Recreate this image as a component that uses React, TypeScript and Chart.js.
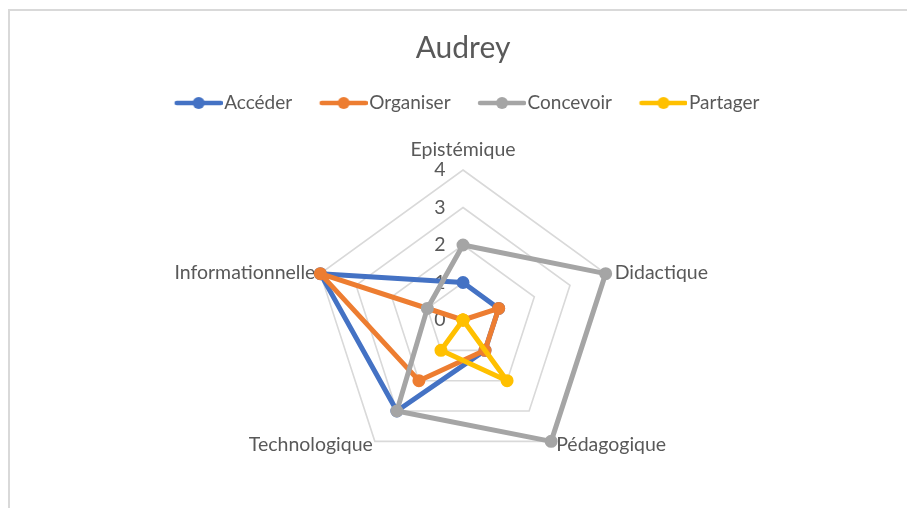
import React, { useEffect, useRef } from 'react';
import { Chart, registerables } from 'chart.js';

Chart.register(...registerables);

const chartTitle = 'Audrey';
const categories = ['Epistémique', 'Didactique', 'Pédagogique', 'Technologique', 'Informationnelle'];
const seriesNames = ['Accéder', 'Organiser', 'Concevoir', 'Partager'];
const accederValues = [1, 1, 1, 3, 4];
const organiserValues = [0, 1, 1, 2, 4];
const concevoirValues = [2, 4, 4, 3, 1];
const partagerValues = [0, 0, 2, 1, 0];
const seriesValues = [accederValues, organiserValues, concevoirValues, partagerValues];
const seriesColors = ['#4472C4', '#ED7D31', '#A5A5A5', '#FFC000'];
const tickMin = 0;
const tickMax = 4;
const tickStep = 1;

const TEXT = '#595959';
const FONT = 'Lato';

function makeLegendIcon(color: string) {
  const c = document.createElement('canvas');
  c.width = 64;
  c.height = 14;
  const ctx = c.getContext('2d')!;
  ctx.strokeStyle = color;
  ctx.lineWidth = 4.5;
  ctx.lineCap = 'round';
  ctx.beginPath();
  ctx.moveTo(18, 7);
  ctx.lineTo(62, 7);
  ctx.stroke();
  ctx.fillStyle = color;
  ctx.beginPath();
  ctx.arc(40, 7, 6, 0, Math.PI * 2);
  ctx.fill();
  return c;
}

const radarLabelsPlugin = {
  id: 'radarLabels',
  beforeDatasetsDraw(chart: any) {
    const scale = chart.scales.r;
    const ctx = chart.ctx;
    ctx.save();
    ctx.fillStyle = TEXT;
    ctx.font = `19.5px ${FONT}`;
    ctx.textBaseline = 'middle';
    ctx.textAlign = 'center';
    scale.ticks.forEach((t: any) => {
      const d = scale.getDistanceFromCenterForValue(t.value);
      ctx.fillText(String(t.label ?? t.value), scale.xCenter - 23, scale.yCenter - d);
    });
    categories.forEach((label, i) => {
      const p = scale.getPointPosition(i, scale.drawingArea);
      const dx = p.x - scale.xCenter;
      if (Math.abs(dx) < 1) {
        ctx.textAlign = 'center';
        ctx.textBaseline = 'alphabetic';
        ctx.fillText(label, p.x, p.y - 14);
      } else {
        ctx.textBaseline = 'middle';
        const below = p.y > scale.yCenter;
        ctx.textAlign = dx > 0 ? 'left' : 'right';
        let ox;
        if (dx > 0) ox = below ? 5 : 9;
        else ox = below ? -2 : -5;
        ctx.fillText(label, p.x + ox, p.y + (below ? 3 : -1));
      }
    });
    ctx.restore();
  },
};

export default function App() {
  const canvasRef = useRef<HTMLCanvasElement | null>(null);

  useEffect(() => {
    if (!canvasRef.current) return;
    const icons = seriesColors.map((c) => makeLegendIcon(c));
    const chart = new Chart(canvasRef.current, {
      type: 'radar',
      data: {
        labels: categories,
        datasets: seriesNames.map((name, i) => ({
          label: name,
          data: seriesValues[i],
          borderColor: seriesColors[i],
          backgroundColor: seriesColors[i],
          pointBackgroundColor: seriesColors[i],
          pointBorderColor: seriesColors[i],
          borderWidth: 5,
          borderJoinStyle: 'round',
          pointRadius: 5.5,
          pointBorderWidth: 2,
          fill: false,
          order: seriesNames.length - i,
        })),
      },
      options: {
        responsive: false,
        animation: false,
        layout: { padding: { left: 19, right: 0, top: 0, bottom: 38 } },
        scales: {
          r: {
            min: tickMin,
            max: tickMax,
            ticks: { display: false, stepSize: tickStep },
            grid: { color: '#d9d9d9', lineWidth: 1.6 },
            angleLines: { display: false },
            pointLabels: { display: false },
          },
        },
        plugins: {
          title: {
            display: true,
            text: chartTitle,
            color: TEXT,
            font: { family: FONT, size: 30, weight: 'normal', lineHeight: 1 },
            padding: { top: 33.4, bottom: 10.6 },
          },
          subtitle: {
            display: true,
            text: ' ',
            weight: 500,
            font: { family: FONT, size: 10, lineHeight: 1 },
            padding: { top: 37.5, bottom: 0 },
          },
          legend: {
            display: true,
            position: 'top',
            labels: {
              color: TEXT,
              font: { family: FONT, size: 19 },
              usePointStyle: true,
              pointStyleWidth: 48,
              padding: 19.5,
              sort: (a: any, b: any) => a.datasetIndex - b.datasetIndex,
              generateLabels: (ch: any) =>
                (Chart.defaults.plugins.legend.labels as any)
                  .generateLabels(ch)
                  .map((item: any) => ({ ...item, pointStyle: icons[item.datasetIndex] })),
            },
          },
          tooltip: { enabled: false },
        },
      } as any,
      plugins: [radarLabelsPlugin],
    });
    return () => chart.destroy();
  }, []);

  return (
    <div style={{ position: 'fixed', left: 0, top: 0, width: 907, height: 508, overflow: 'hidden', background: '#fff' }}>
      <div
        style={{
          position: 'absolute',
          left: 8,
          top: 9,
          right: -10,
          bottom: -10,
          borderTop: '2px solid #d9d9d9',
          borderLeft: '2px solid #d9d9d9',
        }}
      />
      <canvas
        ref={canvasRef}
        width={907}
        height={508}
        style={{ position: 'absolute', left: 0, top: 0, width: 907, height: 508 }}
      />
    </div>
  );
}
